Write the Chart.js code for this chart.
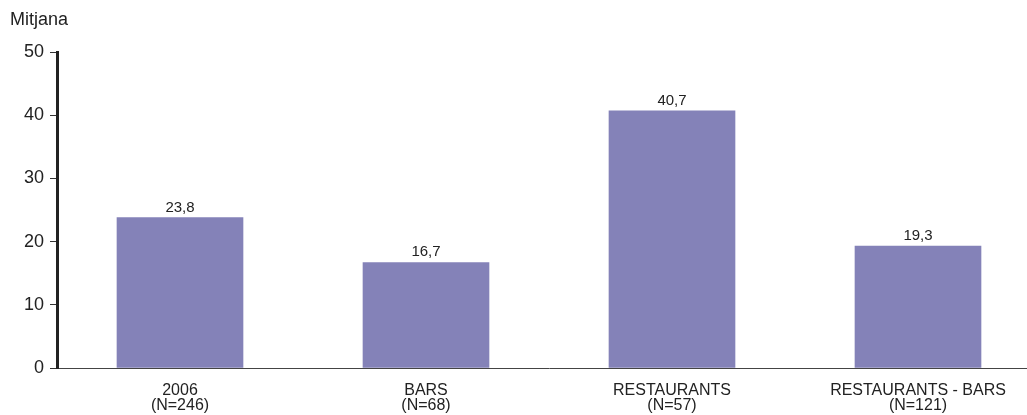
<!DOCTYPE html>
<html>
<head>
<meta charset="utf-8">
<script src="https://cdn.jsdelivr.net/npm/chart.js@4/dist/chart.umd.min.js"></script>
<style>
  html, body { margin: 0; padding: 0; background: #fff; overflow: hidden; }
  #wrap { width: 1041px; height: 415px; }
</style>
</head>
<body>
<div id="wrap"><canvas id="mitjana-chart" width="1041" height="415"></canvas></div>
<script>
let categories = [['2006', '(N=246)'], ['BARS', '(N=68)'], ['RESTAURANTS', '(N=57)'], ['RESTAURANTS - BARS', '(N=121)']];
let mean_values = [23.8, 16.7, 40.7, 19.3];
let y_ticks = [0, 10, 20, 30, 40, 50];
let y_title = 'Mitjana';

let FONT = "'Liberation Sans', Arial, Helvetica, sans-serif";
let TEXT_COLOR = '#222';

let format_value = function(v) {
    return v.toFixed(1).replace('.', ',');
};

// value labels above bars + "Mitjana" caption
let labels_plugin = {
    id: 'labels_plugin',
    afterDatasetsDraw: function(chart) {
        let ctx = chart.ctx;
        ctx.save();
        ctx.fillStyle = TEXT_COLOR;
        ctx.font = '15px ' + FONT;
        ctx.textAlign = 'center';
        ctx.textBaseline = 'alphabetic';
        chart.getDatasetMeta(0).data.forEach(function(bar, i) {
            ctx.fillText(format_value(mean_values[i]), bar.x, bar.y - 6);
        });
        ctx.font = '18px ' + FONT;
        ctx.textAlign = 'left';
        ctx.fillText(y_title, 10, 25);
        ctx.restore();
    }
};

window.onload = function() {
    let chart_element = document.getElementById('mitjana-chart');
    new Chart(chart_element, {
        type: 'bar',
        plugins: [labels_plugin],
        data: {
            labels: categories,
            datasets: [{
                data: mean_values,
                backgroundColor: 'rgb(132, 130, 184)',
                barThickness: 126,
                borderWidth: 0
            }]
        },
        options: {
            responsive: false,
            animation: false,
            devicePixelRatio: 1,
            layout: { padding: { top: 52, right: 0, bottom: 0, left: 0 } },
            plugins: {
                legend: { display: false },
                tooltip: { enabled: false }
            },
            scales: {
                x: {
                    afterFit: function(scale) { scale.height = 47; },
                    grid: { display: true, drawOnChartArea: false, drawTicks: false },
                    border: { display: true, color: '#444', width: 1 },
                    ticks: {
                        color: TEXT_COLOR,
                        padding: 15,
                        maxRotation: 0,
                        autoSkip: false,
                        font: { family: FONT, size: 16, lineHeight: 0.95 }
                    }
                },
                y: {
                    min: 0,
                    max: 50,
                    afterFit: function(scale) { scale.width = 57; },
                    afterBuildTicks: function(scale) {
                        scale.ticks = y_ticks.map(function(v) { return { value: v }; });
                    },
                    grid: { drawOnChartArea: false, drawTicks: true, tickLength: 7, color: '#333', lineWidth: 1 },
                    border: { display: true, color: '#222', width: 3 },
                    ticks: {
                        color: TEXT_COLOR,
                        padding: 6,
                        font: { family: FONT, size: 18 }
                    }
                }
            }
        }
    });
};
</script>
</body>
</html>
